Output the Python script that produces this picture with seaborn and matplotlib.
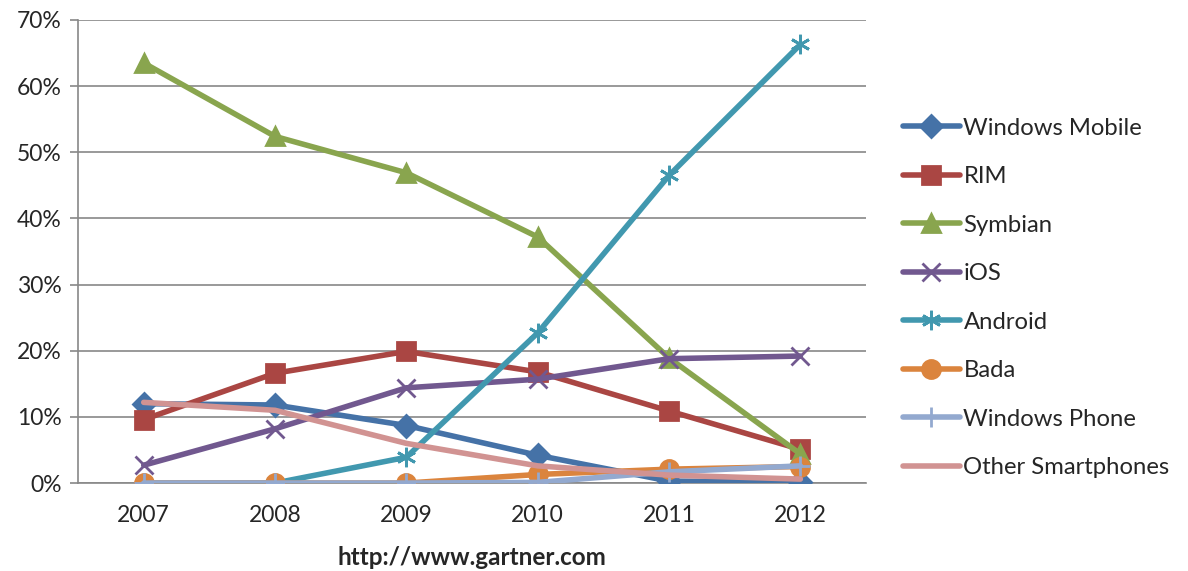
import matplotlib
matplotlib.use("Agg")
import matplotlib.pyplot as plt
import seaborn as sns
import pandas as pd
from matplotlib.ticker import FuncFormatter, FixedLocator

years = ["2007", "2008", "2009", "2010", "2011", "2012"]
windows_mobile = [12.0, 11.8, 8.7, 4.2, 0.3, 0.1]
rim = [9.6, 16.6, 19.9, 16.8, 10.9, 5.1]
symbian = [63.5, 52.4, 46.9, 37.2, 18.9, 4.4]
ios = [2.7, 8.2, 14.4, 15.7, 18.8, 19.2]
android = [0.0, 0.0, 3.9, 22.7, 46.5, 66.3]
bada = [0.0, 0.0, 0.0, 1.3, 2.1, 2.5]
windows_phone = [0.0, 0.0, 0.0, 0.1, 1.7, 2.6]
other = [12.2, 11.0, 6.0, 2.6, 1.2, 0.6]

series_names = ["Windows Mobile", "RIM", "Symbian", "iOS", "Android",
                "Bada", "Windows Phone", "Other Smartphones"]
series_values = [windows_mobile, rim, symbian, ios, android, bada,
                 windows_phone, other]
colors = ["#4572A7", "#AA4643", "#89A54E", "#71588F", "#4198AF",
          "#DB843D", "#93A9CF", "#D19392"]
markers = ["D", "s", "^", "x", (6, 2, 0), "o", "+", ""]
msizes = [11, 13, 13, 13, 14, 13, 15, 0]

rows = []
for name, vals in zip(series_names, series_values):
    for i, (y, v) in enumerate(zip(years, vals)):
        rows.append({"idx": i, "year": y, "series": name, "value": v})
df = pd.DataFrame(rows)

sns.set_style("white")
plt.rcParams["font.family"] = ["Lato", "DejaVu Sans"]

fig = plt.figure(figsize=(11.88, 5.71), dpi=100)
ax = fig.add_axes([0.0657, 0.154, 0.729 - 0.0657, 0.965 - 0.154])

for k, name in enumerate(series_names):
    sub = df[df["series"] == name]
    sns.lineplot(data=sub, x="idx", y="value", ax=ax, color=colors[k],
                 linewidth=4.0, marker=markers[k] if markers[k] != "" else None,
                 markersize=msizes[k], markeredgecolor=colors[k],
                 markerfacecolor=colors[k], markeredgewidth=2.0,
                 label=name, zorder=3 + k, solid_capstyle="round")

ax.set_xlim(-0.5, len(years) - 0.5)
ax.set_ylim(0, 70)
ax.set_xticks(range(len(years)))
ax.set_xticklabels(years)
ax.xaxis.set_minor_locator(FixedLocator([i - 0.5 for i in range(len(years) + 1)]))
ax.tick_params(axis="x", which="major", length=0, labelsize=16.5, pad=16)
ax.tick_params(axis="x", which="minor", length=6, color="#888888", width=1.2, direction="out")
ax.set_yticks(range(0, 71, 10))
ax.yaxis.set_major_formatter(FuncFormatter(lambda v, p: f"{int(v)}%"))
ax.tick_params(axis="y", length=6, color="#888888", width=1.2, labelsize=16.5, direction="out", left=True, pad=6)
ax.grid(axis="y", color="#888888", linewidth=1.2)
ax.grid(axis="x", visible=False)
for s in ["top", "right"]:
    ax.spines[s].set_visible(False)
for s in ["left", "bottom"]:
    ax.spines[s].set_color("#888888")
    ax.spines[s].set_linewidth(1.2)
ax.set_ylabel("")
ax.set_xlabel("http://www.gartner.com", fontsize=17.5, fontweight="bold", labelpad=14)

leg = ax.legend(loc="center left", bbox_to_anchor=(1.019, 0.40), frameon=False,
                fontsize=17.2, labelspacing=1.15, handlelength=2.4, handletextpad=0.15)

fig.savefig("out.png", dpi=100)
